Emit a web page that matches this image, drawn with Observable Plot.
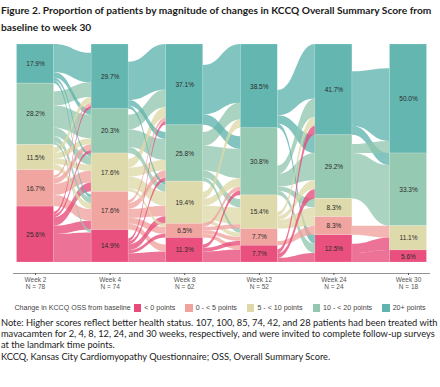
<!DOCTYPE html>
<html><head><meta charset="utf-8">
<script src="https://cdn.jsdelivr.net/npm/d3@7"></script>
<script src="https://cdn.jsdelivr.net/npm/@observablehq/plot@0.6"></script>
<style>
body{margin:0;background:#fff;width:440px;height:387px;overflow:hidden;position:relative}
#title{position:absolute;left:1px;top:2px;font-family:Lato,"Open Sans",sans-serif;font-weight:700;font-size:10.5px;line-height:16.5px;color:#1a1a1a;white-space:nowrap}
#chart{position:absolute;left:0;top:36px}
#chart svg{display:block}
#legend{position:absolute;left:0;width:440px;top:303px;font-family:"Liberation Sans",Arial,sans-serif;font-size:7.1px;color:#444;display:flex;justify-content:center;align-items:center;gap:10px;height:10px}
#legend .sw{display:inline-block;width:7.5px;height:7.5px;margin-right:3px}
#legend span.it{display:inline-flex;align-items:center}
#note{position:absolute;left:1px;top:317px;font-family:Lato,"Open Sans",sans-serif;font-size:10.5px;line-height:11.2px;color:#1a1a1a;white-space:nowrap}
.ln{display:inline-block}
</style></head><body>
<div id="title"><span class="ln" id="t1">Figure 2. Proportion of patients by magnitude of changes in KCCQ Overall Summary Score from</span><br><span class="ln">baseline to week 30</span></div>
<div id="chart"></div>
<div id="legend"></div>
<div id="note"><span class="ln" id="n1">Note: Higher scores reflect better health status. 107, 100, 85, 74, 42, and 28 patients had been treated with</span><br>mavacamten for 2, 4, 8, 12, 24, and 30 weeks, respectively, and were invited to complete follow-up surveys<br>at the landmark time points.<br>KCCQ, Kansas City Cardiomyopathy Questionnaire; OSS, Overall Summary Score.</div>
<script>
const weeks = ["Week 2", "Week 4", "Week 8", "Week 12", "Week 24", "Week 30"];
const nPatients = [78, 74, 62, 52, 24, 18];
// categories listed top to bottom of each bar
const categories = ["20+ points", "10 - < 20 points", "5 - < 10 points", "0 - < 5 points", "< 0 points"];
const colors = ["#5fb4ad", "#93c7af", "#ddd9a8", "#f0a29d", "#e84a7a"];
const legendOrder = ["< 0 points", "0 - < 5 points", "5 - < 10 points", "10 - < 20 points", "20+ points"];
// patient counts per category at each week (same order as categories)
const week2 = [14, 22, 9, 13, 20];
const week4 = [22, 15, 13, 13, 11];
const week8 = [23, 16, 12, 4, 7];
const week12 = [20, 16, 8, 4, 4];
const week24 = [10, 7, 2, 2, 3];
const week30 = [9, 6, 2, 0, 1];
// transitions: rows = category at earlier week, cols = category at next week
const flow2to4 = [[10,2,1,1,0],[5,8,3,2,1],[2,2,2,2,0],[1,2,4,4,0],[1,1,3,3,10]];
const flow4to8 = [[13,2,1,0,0],[5,6,2,0,0],[3,3,4,1,0],[1,2,3,2,2],[1,1,2,1,3]];
const flow8to12 = [[14,3,0,0,0],[4,7,2,1,0],[2,2,4,1,0],[0,1,1,1,1],[0,1,0,1,3]];
const flow12to24 = [[6,2,0,0,1],[2,3,1,0,1],[1,1,1,1,0],[0,0,0,1,0],[1,1,0,0,1]];
const flow24to30 = [[6,1,0,0,0],[1,5,0,0,0],[0,0,0,0,0],[0,0,1,0,0],[0,0,1,0,1]];

const counts = [week2, week4, week8, week12, week24, week30];
const transitions = [flow2to4, flow4to8, flow8to12, flow12to24, flow24to30];
const halfW = 0.248;

// bars
const bars = [];
const tops = [];
counts.forEach((row, w) => {
  let top = 100; const t = [];
  row.forEach((c, s) => {
    const h = c / nPatients[w] * 100;
    t.push(top);
    bars.push({w, cat: categories[s], n: c, y1: top - h, y2: top, pct: (c / nPatients[w] * 100).toFixed(1)});
    top -= h;
  });
  tops.push(t);
});

// flows
const flowPts = [];
let fid = 0;
const flowList = [];
transitions.forEach((M, t) => {
  const N0 = nPatients[t], N1 = nPatients[t + 1];
  const outCur = M.map((r, s) => tops[t][s] - (counts[t][s] - d3.sum(r)) / N0 * 100);
  const inCur = categories.map((_, d) => tops[t + 1][d] - (counts[t + 1][d] - d3.sum(M, r => r[d])) / N1 * 100);
  M.forEach((r, s) => r.forEach((c, d) => {
    if (!c) return;
    const lw = c / N0 * 100, rw = c / N1 * 100;
    flowList.push({id: fid++, c, src: categories[s], pts: [
      {x: t + halfW, y1: outCur[s] - lw, y2: outCur[s]},
      {x: t + 1 - halfW, y1: inCur[d] - rw, y2: inCur[d]}
    ]});
    outCur[s] -= lw; inCur[d] -= rw;
  }));
});
flowList.sort((a, b) => b.c - a.c).forEach(f => f.pts.forEach(p => flowPts.push({id: f.id, src: f.src, ...p})));

const chart = Plot.plot({
  width: 440, height: 259,
  marginLeft: 13, marginRight: 10, marginTop: 8, marginBottom: 22,
  style: {fontFamily: "'Liberation Sans', Arial, sans-serif", background: "#fff"},
  x: {domain: [-0.295, 5.295], axis: null},
  y: {domain: [0, 100], axis: null, insetBottom: 11},
  color: {domain: categories, range: colors},
  marks: [
    Plot.areaY(flowPts, {x: "x", y1: "y1", y2: "y2", z: "id", fill: "src", fillOpacity: 0.78, curve: "bump-x"}),
    Plot.rect(bars, {x1: d => d.w - halfW, x2: d => d.w + halfW, y1: "y1", y2: "y2", fill: "cat", fillOpacity: 0.97, stroke: "#fff", strokeOpacity: 0.35, strokeWidth: 0.5}),
    Plot.text(bars.filter(d => d.n > 0), {x: "w", y: d => (d.y1 + d.y2) / 2, text: d => d.pct + "%", fontSize: 6.5, fill: "#2a2a2a"}),
    Plot.ruleY([0], {dy: 11, stroke: "#777", strokeWidth: 0.8}),
    Plot.axisX(d3.range(weeks.length), {tickSize: 2, tickPadding: 1, fontSize: 6.5, color: "#555", lineHeight: 1.15, tickFormat: i => `${weeks[i]}\nN = ${nPatients[i]}`, label: null})
  ]
});
document.getElementById("chart").appendChild(chart);

const lg = document.getElementById("legend");
const lab = document.createElement("span"); lab.textContent = "Change in KCCQ OSS from baseline"; lab.style.marginRight = "-7px"; lg.appendChild(lab);
legendOrder.forEach(c => {
  const it = document.createElement("span"); it.className = "it";
  const sw = document.createElement("span"); sw.className = "sw"; sw.style.background = colors[categories.indexOf(c)];
  it.appendChild(sw); it.appendChild(document.createTextNode(c)); lg.appendChild(it);
});

// fit text blocks to the reference line widths
function fit(boxId, lineId, target) {
  const box = document.getElementById(boxId), ln = document.getElementById(lineId);
  const fs = parseFloat(getComputedStyle(box).fontSize);
  const w = ln.getBoundingClientRect().width;
  if (w > 0) box.style.fontSize = (fs * target / w).toFixed(2) + "px";
}
fit("title", "t1", 431);
fit("note", "n1", 437);
</script>
</body></html>
